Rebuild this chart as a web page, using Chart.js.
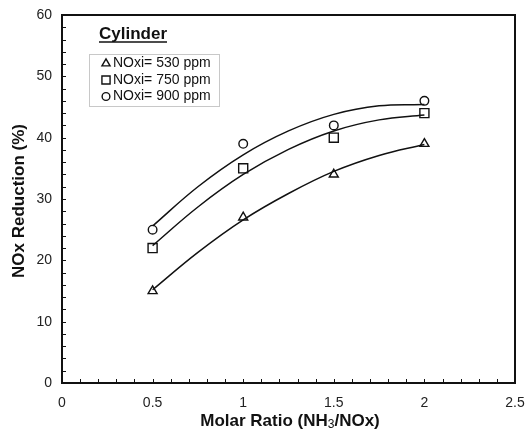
<!DOCTYPE html>
<html>
<head>
<meta charset="utf-8">
<script src="https://cdn.jsdelivr.net/npm/chart.js@4/dist/chart.umd.min.js"></script>
<style>
  html, body { margin: 0; padding: 0; background: #fff; }
  #wrap { width: 526px; height: 431px; }
</style>
</head>
<body>
<div id="wrap"><canvas id="chart" width="526" height="431"></canvas></div>
<script>
// measured points
const molarRatio = [0.5, 1, 1.5, 2];
const nox530 = [15, 27, 34, 39];
const nox750 = [22, 35, 40, 44];
const nox900 = [25, 39, 42, 46];

// trend curves
const fitX = [0.5, 0.75, 1, 1.25, 1.5, 1.75, 2];
const fit530 = [15.2, 21.3, 26.6, 30.9, 34.5, 37.1, 38.9];
const fit750 = [22.4, 28.7, 34.0, 38.1, 41.1, 42.9, 43.7];
const fit900 = [25.6, 32.0, 37.2, 41.1, 43.8, 45.2, 45.4];

const seriesLabels = ['NOxi= 530 ppm', 'NOxi= 750 ppm', 'NOxi= 900 ppm'];
const xTickValues = [0, 0.5, 1, 1.5, 2, 2.5];
const yTickValues = [0, 10, 20, 30, 40, 50, 60];

const FONT = '"Liberation Sans", Arial, sans-serif';
const INK = '#111';

const toXY = (xs, ys) => xs.map((x, i) => ({ x, y: ys[i] }));

function markerSet(label, ys, style, r) {
  return {
    label, data: toXY(molarRatio, ys), showLine: false,
    pointStyle: style, pointRadius: r, pointHoverRadius: r,
    pointBorderColor: INK, pointBackgroundColor: 'rgba(0,0,0,0)', pointBorderWidth: 1.4,
    order: 0
  };
}
function curveSet(ys) {
  return {
    label: '', data: toXY(fitX, ys), showLine: true, tension: 0.4,
    borderColor: INK, borderWidth: 1.5, pointRadius: 0, pointHoverRadius: 0,
    order: 1, isCurve: true
  };
}

// 상자, 보조눈금, 축제목, 범례
const decor = {
  id: 'decor',
  afterDraw(chart) {
    const { ctx, chartArea: a, scales: { x, y } } = chart;
    ctx.save();
    ctx.strokeStyle = INK;
    ctx.lineWidth = 1;
    ctx.beginPath();
    for (let i = 1; i < 25; i++) {
      const px = Math.round(x.getPixelForValue(i / 10)) + 0.5;
      ctx.moveTo(px, a.bottom); ctx.lineTo(px, a.bottom - 4);
    }
    for (let v = 2; v < 60; v += 2) {
      const py = Math.round(y.getPixelForValue(v)) + 0.5;
      ctx.moveTo(a.left, py); ctx.lineTo(a.left + 4, py);
    }
    ctx.stroke();

    ctx.lineWidth = 2;
    ctx.strokeRect(a.left, a.top, a.right - a.left, a.bottom - a.top);

    // y title
    ctx.fillStyle = INK;
    ctx.font = 'bold 17px ' + FONT;
    ctx.textAlign = 'center';
    ctx.textBaseline = 'middle';
    ctx.save();
    ctx.translate(19, (a.top + a.bottom) / 2 + 2);
    ctx.rotate(-Math.PI / 2);
    ctx.fillText('NOx Reduction (%)', 0, 0);
    ctx.restore();

    // x title with subscript
    const parts = [['Molar Ratio (NH', 'bold 17px '], ['3', '12px '], ['/NOx)', 'bold 17px ']];
    let total = 0;
    parts.forEach(p => { ctx.font = p[1] + FONT; total += ctx.measureText(p[0]).width; });
    let cx = 290 - total / 2;
    ctx.textAlign = 'left';
    ctx.textBaseline = 'alphabetic';
    parts.forEach(p => {
      ctx.font = p[1] + FONT;
      ctx.fillText(p[0], cx, p[0] === '3' ? 428 : 426);
      cx += ctx.measureText(p[0]).width;
    });

    // Cylinder
    ctx.font = 'bold 17px ' + FONT;
    ctx.fillText('Cylinder', 99, 39);
    const w = ctx.measureText('Cylinder').width;
    ctx.lineWidth = 1.5;
    ctx.beginPath();
    ctx.moveTo(99, 42); ctx.lineTo(99 + w, 42);
    ctx.stroke();

    // legend box
    ctx.strokeStyle = '#c8c8c8';
    ctx.lineWidth = 1;
    ctx.strokeRect(89.5, 54.5, 130, 52);
    ctx.font = '14px ' + FONT;
    ctx.textBaseline = 'middle';
    const markers = chart.data.datasets.filter(d => !d.isCurve);
    markers.forEach((d, i) => {
      const ly = 63.5 + i * 16.5;
      ctx.fillStyle = 'rgba(0,0,0,0)';
      ctx.strokeStyle = INK;
      ctx.lineWidth = 1.4;
      Chart.helpers.drawPoint(ctx, {
        pointStyle: d.pointStyle, radius: d.pointRadius * 0.9, borderWidth: 1.4, rotation: 0
      }, 106, ly);
      ctx.fillStyle = INK;
      ctx.fillText(d.label, 113, ly);
    });
    ctx.restore();
  }
};

new Chart(document.getElementById('chart'), {
  type: 'scatter',
  data: {
    datasets: [
      markerSet(seriesLabels[0], nox530, 'triangle', 5.2),
      markerSet(seriesLabels[1], nox750, 'rect', 6.4),
      markerSet(seriesLabels[2], nox900, 'circle', 4.3),
      curveSet(fit530),
      curveSet(fit750),
      curveSet(fit900)
    ]
  },
  options: {
    responsive: false,
    animation: false,
    devicePixelRatio: 1,
    layout: { padding: { top: 15, right: 11, left: 0, bottom: 0 } },
    plugins: { legend: { display: false }, tooltip: { enabled: false } },
    scales: {
      x: {
        type: 'linear', min: 0, max: 2.5,
        grid: { display: false }, border: { display: false },
        afterBuildTicks: s => { s.ticks = xTickValues.map(v => ({ value: v })); },
        afterFit: s => { s.height = 48; s.paddingRight = 0; },
        ticks: { padding: 4, color: '#222', font: { family: FONT, size: 14 }, maxRotation: 0, callback: v => String(v) }
      },
      y: {
        type: 'linear', min: 0, max: 60,
        grid: { display: false }, border: { display: false },
        afterBuildTicks: s => { s.ticks = yTickValues.map(v => ({ value: v })); },
        afterFit: s => { s.width = 62; },
        ticks: { padding: 2, color: '#222', font: { family: FONT, size: 14 }, callback: v => String(v) }
      }
    }
  },
  plugins: [decor]
});
</script>
</body>
</html>
